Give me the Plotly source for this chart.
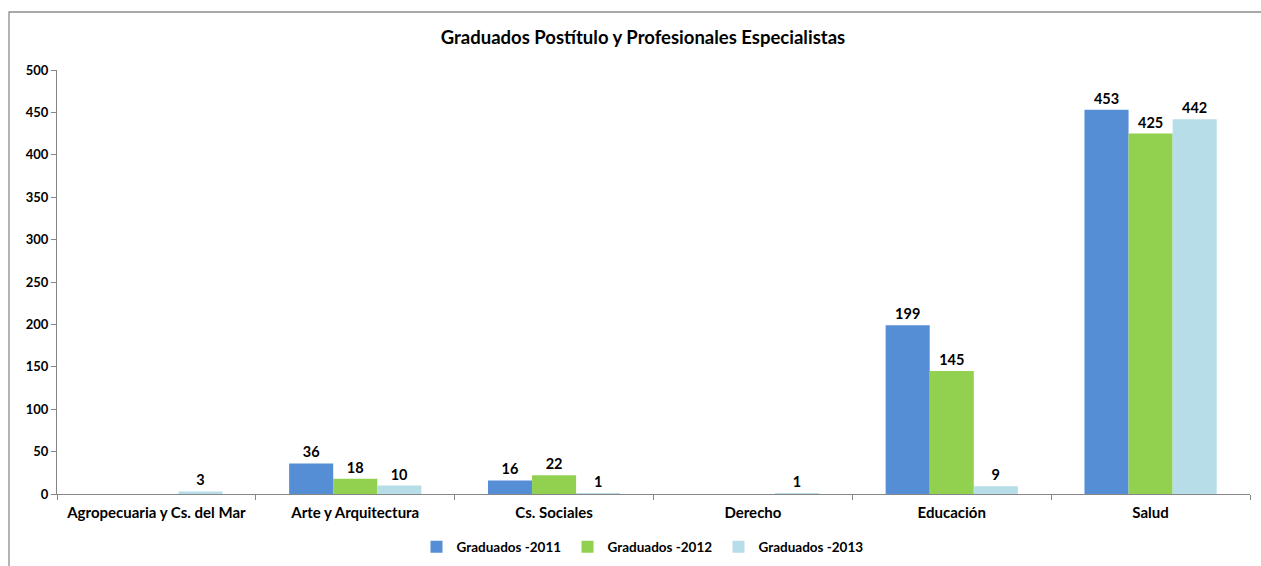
import plotly.graph_objects as go

categories = ["Agropecuaria y Cs. del Mar", "Arte y Arquitectura", "Cs. Sociales", "Derecho", "Educación", "Salud"]
g2011 = [None, 36, 16, None, 199, 453]
g2012 = [None, 18, 22, None, 145, 425]
g2013 = [3, 10, 1, 1, 9, 442]
series_names = ["Graduados -2011", "Graduados -2012", "Graduados -2013"]
colors = ["#558ED5", "#92D050", "#B7DEE8"]

FONT = "Lato"

fig = go.Figure()
for name, vals, col in zip(series_names, [g2011, g2012, g2013], colors):
    fig.add_trace(go.Bar(
        x=categories, y=vals, name="<b>" + name + "</b>", marker_color=col, marker_line_width=0,
        text=[("" if v is None else str(v)) for v in vals],
        texttemplate="<b>%{text}</b>",
        textposition="outside", cliponaxis=False,
        textfont=dict(family=FONT, size=14.5, color="black"),
    ))

W, H = 1261, 566
L, R, T, B = 57, 11, 70, 72
pw, ph = W - L - R, H - T - B

def px(x):
    return (x - L) / pw

def py(y):
    return (H - B - y) / ph

fig.add_shape(type="rect", xref="paper", yref="paper",
              x0=px(9), x1=px(1300), y0=py(620), y1=py(12),
              line=dict(color="#8c8c8c", width=1.3), fillcolor="rgba(0,0,0,0)", layer="below")

fig.update_layout(
    width=W, height=H,
    margin=dict(l=L, r=R, t=T, b=B),
    paper_bgcolor="white", plot_bgcolor="white",
    barmode="group", bargap=0.335, bargroupgap=0,
    title=dict(text="<b>Graduados Postítulo y Profesionales Especialistas</b>",
               x=px(643), xref="paper", xanchor="center", y=1 - 38 / H, yanchor="middle",
               font=dict(family=FONT, size=18.5, color="black")),
    font=dict(family=FONT, size=13, color="black"),
    showlegend=True,
    legend=dict(orientation="h", x=643 / W, xanchor="center", xref="container",
                y=1 - 547 / H, yref="container", yanchor="middle",
                font=dict(family=FONT, size=13.5, color="black"),
                itemwidth=30, tracegroupgap=0,
                entrywidth=106, entrywidthmode="pixels"),
)
fig.update_xaxes(showline=True, linecolor="#868686", linewidth=1.3,
                 ticks="outside", tickson="boundaries", ticklen=5, tickcolor="#868686",
                 tickfont=dict(family=FONT, size=15, color="black"), ticklabelstandoff=5,
                 tickprefix="<b>", ticksuffix="</b>", showgrid=False)
fig.update_yaxes(range=[0, 500], dtick=50, showline=True, linecolor="#868686", linewidth=1.3,
                 ticks="outside", ticklen=5, tickcolor="#868686", showgrid=False, zeroline=False,
                 tickfont=dict(family=FONT, size=13, color="black"),
                 tickprefix="<b>", ticksuffix="</b>")

fig.write_html("out.html", post_script="document.body.style.margin='0';",
               config={"displayModeBar": False})
